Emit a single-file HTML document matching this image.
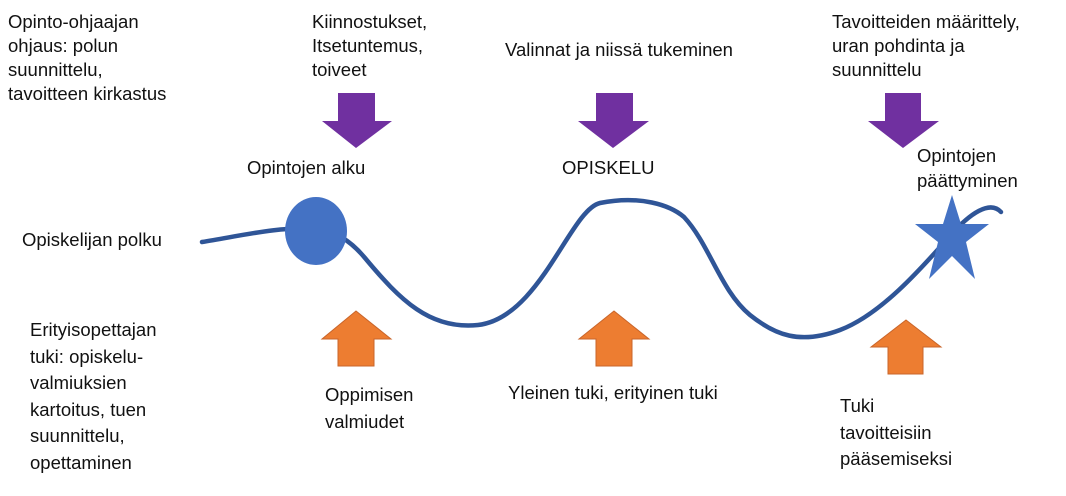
<!DOCTYPE html>
<html><head><meta charset="utf-8"><style>
body{margin:0;width:1066px;height:496px;background:#fff;position:relative;overflow:hidden;font-family:"Liberation Sans",sans-serif;font-size:18.5px;color:#111}
.t{position:absolute;line-height:24px;white-space:nowrap}
svg{position:absolute;left:0;top:0}
</style></head><body>
<svg width="1066" height="496">
<path d="M202,242 C240,236 280,226 315,229 C335,231 350,240 365,258 C400,300 430,330 478,325 C540,318 570,210 600,203 C640,195 670,205 684,217 C710,245 720,290 750,315 C775,335 800,345 840,330 C880,315 920,270 950,236 C970,213 990,200 1001,212" fill="none" stroke="#2f5597" stroke-width="4.5" stroke-linecap="round"/>
<ellipse cx="316" cy="231" rx="31" ry="34" fill="#4472c4"/>
<polygon points="952,195 961,224 989,224 966,242 975,279 952,256 929,279 938,242 915,224 943,224" fill="#4472c4"/>
<g fill="#7030a0">
<polygon points="338,93 375,93 375,121 392,121 356,148 322,121 338,121"/>
<polygon points="596,93 633,93 633,121 649,121 613,148 578,121 596,121"/>
<polygon points="885,93 921,93 921,121 939,121 903,148 868,121 885,121"/>
</g>
<g fill="#ed7d31" stroke="#c9652a" stroke-width="1">
<polygon points="356,311 391,339 374,339 374,366 338,366 338,339 322,339"/>
<polygon points="614,311 649,339 632,339 632,366 596,366 596,339 579,339"/>
<polygon points="906,320 941,347 923,347 923,374 888,374 888,347 871,347"/>
</g>
</svg>
<div class="t" style="left:8px;top:10px">Opinto-ohjaajan<br>ohjaus: polun<br>suunnittelu,<br>tavoitteen kirkastus</div>
<div class="t" style="left:312px;top:10px">Kiinnostukset,<br>Itsetuntemus,<br>toiveet</div>
<div class="t" style="left:505px;top:38px">Valinnat ja niissä tukeminen</div>
<div class="t" style="left:832px;top:10px">Tavoitteiden määrittely,<br>uran pohdinta ja<br>suunnittelu</div>
<div class="t" style="left:247px;top:156px">Opintojen alku</div>
<div class="t" style="left:562px;top:156px">OPISKELU</div>
<div class="t" style="left:917px;top:143px;line-height:25px">Opintojen<br>päättyminen</div>
<div class="t" style="left:22px;top:228px">Opiskelijan polku</div>
<div class="t" style="left:30px;top:317px;line-height:26.5px">Erityisopettajan<br>tuki: opiskelu-<br>valmiuksien<br>kartoitus, tuen<br>suunnittelu,<br>opettaminen</div>
<div class="t" style="left:325px;top:381px;line-height:27px">Oppimisen<br>valmiudet</div>
<div class="t" style="left:508px;top:381px">Yleinen tuki, erityinen tuki</div>
<div class="t" style="left:840px;top:393px;line-height:26.5px">Tuki<br>tavoitteisiin<br>pääsemiseksi</div>
</body></html>
